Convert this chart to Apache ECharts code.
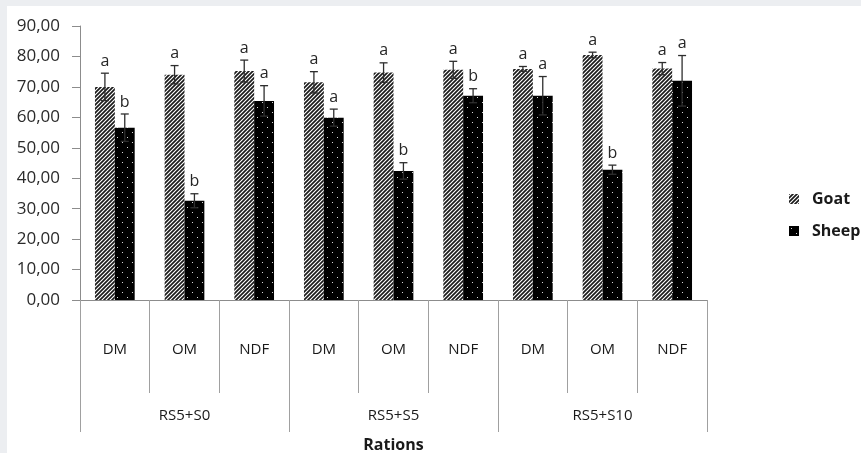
<!DOCTYPE html>
<html>
<head>
<meta charset="utf-8">
<script src="https://cdn.jsdelivr.net/npm/echarts@6/dist/echarts.min.js"></script>
<style>
  html, body { margin: 0; padding: 0; background: #eceef1; }
  #chart { position: absolute; left: 0; top: 0; width: 861px; height: 453px; }
</style>
</head>
<body>
<div id="chart"></div>
<script>
// Digestibility by ration and fraction
const rations = ['RS5+S0', 'RS5+S5', 'RS5+S10'];
const fractions = ['DM', 'OM', 'NDF', 'DM', 'OM', 'NDF', 'DM', 'OM', 'NDF'];
const goatMean = [70.0, 74.0, 75.2, 71.5, 74.7, 75.6, 75.9, 80.5, 76.0];
const goatErr = [4.5, 3.0, 3.6, 3.5, 3.2, 2.8, 0.8, 0.9, 2.0];
const goatLetters = ['a', 'a', 'a', 'a', 'a', 'a', 'a', 'a', 'a'];
const sheepMean = [56.6, 32.6, 65.4, 59.9, 42.4, 67.1, 67.1, 42.8, 72.0];
const sheepErr = [4.5, 2.3, 5.0, 2.8, 2.7, 2.3, 6.3, 1.5, 8.3];
const sheepLetters = ['b', 'b', 'a', 'a', 'b', 'b', 'a', 'b', 'a'];
const yTicks = [0, 10, 20, 30, 40, 50, 60, 70, 80, 90];

const FONT = '"Open Sans", "Liberation Sans", sans-serif';

// Diagonal hatch fill
function hatchPattern() {
  const c = document.createElement('canvas');
  c.width = 4; c.height = 4;
  const g = c.getContext('2d');
  g.fillStyle = '#ffffff';
  g.fillRect(0, 0, 4, 4);
  g.strokeStyle = '#1a1a1a';
  g.lineWidth = 1.7;
  g.beginPath();
  g.moveTo(-1, 5); g.lineTo(5, -1);
  g.moveTo(-1, 1); g.lineTo(1, -1);
  g.moveTo(3, 5); g.lineTo(5, 3);
  g.stroke();
  return c;
}
// Black fill with small white dots
function dotPattern() {
  const c = document.createElement('canvas');
  c.width = 10; c.height = 10;
  const g = c.getContext('2d');
  g.fillStyle = '#000000';
  g.fillRect(0, 0, 10, 10);
  g.fillStyle = '#d8d8d8';
  g.fillRect(2, 2, 1, 1);
  g.fillRect(7, 7, 1, 1);
  return c;
}

const BAR_SHARE = 0.57; // fraction of the band occupied by the two bars

function errorSeries(name, means, errs, letters, side) {
  return {
    type: 'custom',
    name: name + ' error',
    z: 5,
    silent: true,
    data: means.map((m, i) => [i, m, errs[i], letters[i]]),
    renderItem: function (params, api) {
      const i = api.value(0);
      const m = api.value(1);
      const e = api.value(2);
      const band = api.size([1, 0])[0];
      const bw = band * BAR_SHARE / 2;
      const top = api.coord([i, m + e]);
      const low = api.coord([i, m - e]);
      const x = top[0] + side * bw / 2;
      const cap = 4;
      const style = { stroke: '#2e2e2e', lineWidth: 1.3 };
      return {
        type: 'group',
        children: [
          { type: 'line', shape: { x1: x, y1: top[1], x2: x, y2: low[1] }, style: style },
          { type: 'line', shape: { x1: x - cap, y1: top[1], x2: x + cap, y2: top[1] }, style: style },
          { type: 'line', shape: { x1: x - cap, y1: low[1], x2: x + cap, y2: low[1] }, style: style },
          {
            type: 'text',
            style: {
              text: letters[i],
              x: x, y: top[1] - 4,
              align: 'center', verticalAlign: 'bottom',
              fill: '#262626',
              font: '16px ' + FONT
            }
          }
        ]
      };
    }
  };
}

const chart = echarts.init(document.getElementById('chart'));
chart.setOption({
  animation: false,
  graphic: [
    { type: 'rect', shape: { x: 7, y: 6, width: 854, height: 447 }, style: { fill: '#ffffff' }, z: -10 }
  ],
  grid: { left: 80, right: 154, top: 26, bottom: 153, containLabel: false, outerBoundsMode: 'none' },
  legend: {
    orient: 'vertical',
    left: 784,
    top: 186,
    itemWidth: 10,
    itemHeight: 10,
    itemGap: 16,
    icon: 'rect',
    data: ['Goat', 'Sheep'],
    textStyle: { fontFamily: FONT, fontSize: 16, fontWeight: 'bold', color: '#1a1a1a', padding: [0, 0, 0, 8] }
  },
  xAxis: [
    {
      type: 'category',
      data: fractions,
      position: 'bottom',
      axisLine: { lineStyle: { color: '#8c8c8c', width: 1 } },
      axisTick: { show: true, interval: 0, length: 93, lineStyle: { color: '#a0a0a0' } },
      axisLabel: { interval: 0, margin: 42, fontFamily: FONT, fontSize: 15, color: '#1a1a1a' },
      name: 'Rations',
      nameLocation: 'middle',
      nameGap: 137,
      nameTextStyle: { fontFamily: FONT, fontSize: 16, fontWeight: 'bold', color: '#1a1a1a' }
    },
    {
      type: 'category',
      data: rations,
      position: 'bottom',
      axisLine: { show: false },
      axisTick: { show: true, interval: 0, length: 132, lineStyle: { color: '#a0a0a0' } },
      axisLabel: { interval: 0, margin: 108, fontFamily: FONT, fontSize: 15, color: '#1a1a1a' }
    }
  ],
  yAxis: {
    type: 'value',
    min: yTicks[0],
    max: yTicks[yTicks.length - 1],
    interval: 10,
    splitLine: { show: false },
    axisLine: { show: true, lineStyle: { color: '#8c8c8c' } },
    axisTick: { show: true, length: 8, lineStyle: { color: '#8c8c8c' } },
    axisLabel: {
      margin: 20,
      fontFamily: FONT,
      fontSize: 17,
      color: '#2a2a2a',
      formatter: v => v.toFixed(2).replace('.', ',')
    }
  },
  series: [
    {
      name: 'Goat',
      type: 'bar',
      data: goatMean,
      barGap: '0%',
      barCategoryGap: '43%',
      itemStyle: { color: { image: hatchPattern(), repeat: 'repeat' } }
    },
    {
      name: 'Sheep',
      type: 'bar',
      data: sheepMean,
      barGap: '0%',
      barCategoryGap: '43%',
      itemStyle: { color: { image: dotPattern(), repeat: 'repeat' } }
    },
    errorSeries('Goat', goatMean, goatErr, goatLetters, -1),
    errorSeries('Sheep', sheepMean, sheepErr, sheepLetters, 1)
  ]
});
</script>
</body>
</html>
